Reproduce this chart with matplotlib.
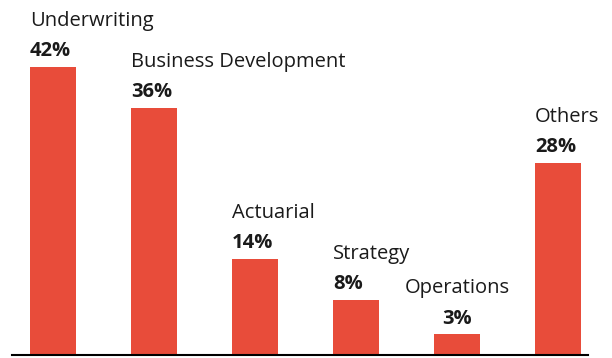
import matplotlib.pyplot as plt

categorias = ['Underwriting', 'Business Development', 'Actuarial', 'Strategy', 'Operations', 'Others']
valores = [42, 36, 14, 8, 3, 28]

ROJO = '#E84C3A'
TEXTO = '#1a1a1a'

plt.rcParams['font.family'] = ['Open Sans', 'DejaVu Sans']

fig = plt.figure(figsize=(6.12, 3.58), dpi=100)
ax = fig.add_axes([12 / 612, 3 / 358, 576 / 612, 355 / 358])

x = range(len(categorias))
ancho = 0.455
barras = ax.bar(x, valores, width=ancho, color=ROJO, zorder=2)

for i, (cat, val) in enumerate(zip(categorias, valores)):
    # casi todas las etiquetas van alineadas al borde izquierdo de la barra
    if cat == 'Operations':
        xpos, ha = i, 'center'
    else:
        xpos, ha = i - ancho / 2, 'left'
    ax.annotate(f'{val}%', (xpos, val), xytext=(0, 7.7), textcoords='offset points',
                ha=ha, va='baseline', fontsize=14.5, fontweight='bold', color=TEXTO)
    ax.annotate(cat, (xpos, val), xytext=(0, 29.5), textcoords='offset points',
                ha=ha, va='baseline', fontsize=14.5, color=TEXTO)

ax.set_xlim(-0.406, 5.297)
ax.set_ylim(0, 51.7)
for lado in ['top', 'right', 'left']:
    ax.spines[lado].set_visible(False)
ax.spines['bottom'].set_linewidth(1.5)
ax.spines['bottom'].set_color('black')
ax.set_xticks([])
ax.set_yticks([])

fig.savefig('out.png', dpi=100)
